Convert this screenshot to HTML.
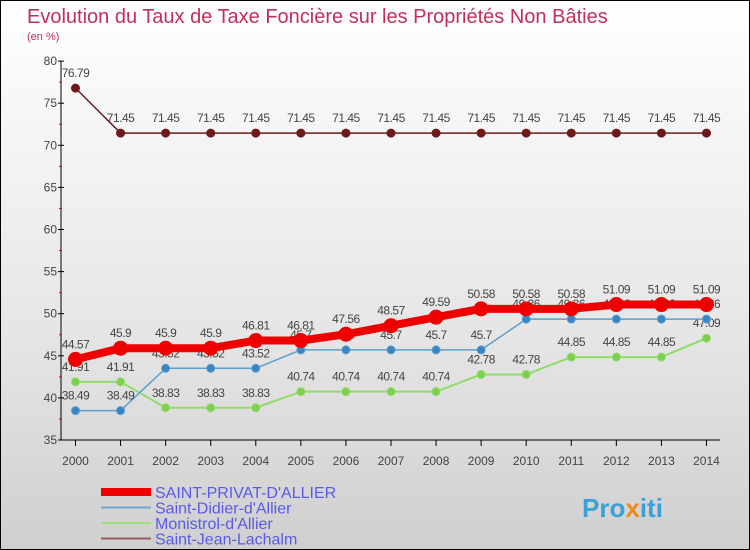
<!DOCTYPE html>
<html><head><meta charset="utf-8">
<style>
html,body{margin:0;padding:0}
body{width:750px;height:550px;overflow:hidden;font-family:"Liberation Sans",sans-serif}
#frame{position:absolute;left:0;top:0;width:748px;height:548px;border:1px solid #000;background:linear-gradient(#ffffff,#e6e6e6 60%,#cfcfcf)}
</style></head><body>
<div id="frame">
<svg id="chart" width="750" height="550" style="position:absolute;left:-1px;top:-1px">
<text x="27" y="23" font-size="20" fill="#c0305a">Evolution du Taux de Taxe Foncière sur les Propriétés Non Bâties</text>
<text x="27" y="40" font-size="11" fill="#c0305a">(en %)</text>
<g id="axes"></g>
<g id="series"></g>
<g id="legend"></g>
<text x="582" y="517" font-size="26" font-weight="bold" fill="#3aa0d8">Pro<tspan fill="#f08a1c">x</tspan>iti</text>
</svg>
</div>
<script>
const years=[2000,2001,2002,2003,2004,2005,2006,2007,2008,2009,2010,2011,2012,2013,2014];
const yTicks=[35,40,45,50,55,60,65,70,75,80];
const seriesNames=["SAINT-PRIVAT-D'ALLIER","Saint-Didier-d'Allier","Monistrol-d'Allier","Saint-Jean-Lachalm"];
const stPrivat=[44.57,45.9,45.9,45.9,46.81,46.81,47.56,48.57,49.59,50.58,50.58,50.58,51.09,51.09,51.09];
const stDidier=[38.49,38.49,43.52,43.52,43.52,45.7,45.7,45.7,45.7,45.7,49.36,49.36,49.36,49.36,49.36];
const monistrol=[41.91,41.91,38.83,38.83,38.83,40.74,40.74,40.74,40.74,42.78,42.78,44.85,44.85,44.85,47.09];
const stJean=[76.79,71.45,71.45,71.45,71.45,71.45,71.45,71.45,71.45,71.45,71.45,71.45,71.45,71.45,71.45];

const NS="http://www.w3.org/2000/svg";
const X0=75.5,XS=45.07,Y0=440,YMIN=35,YPX=8.42;
const xs=i=>X0+i*XS, ys=v=>Y0-(v-YMIN)*YPX;
function mk(t,a,p){const e=document.createElementNS(NS,t);for(const k in a)e.setAttribute(k,a[k]);p.appendChild(e);return e;}
const axes=document.getElementById('axes');
let e=mk('line',{x1:61,y1:ys(80),x2:61,y2:Y0,stroke:'#000'},axes);


e=mk('line',{x1:61,y1:Y0,x2:720,y2:Y0,stroke:'#000'},axes);


yTicks.forEach((t,i)=>{
  mk('line',{x1:58,y1:ys(t),x2:64,y2:ys(t),stroke:'#000'},axes);
  if(i<yTicks.length-1) mk('line',{x1:59,y1:ys(t+2.5),x2:62,y2:ys(t+2.5),stroke:'#e00'},axes);
  const l=mk('text',{x:57,y:ys(t)+4,'font-size':12,'text-anchor':'end',fill:'#444'},axes);
  l.textContent=t;
  
  
});
years.forEach((y,i)=>{
  mk('line',{x1:xs(i),y1:Y0,x2:xs(i),y2:Y0+6,stroke:'#000'},axes);
  const l=mk('text',{x:xs(i),y:Y0+25,'font-size':12,'text-anchor':'middle',fill:'#444'},axes);
  l.textContent=y;
  
  
});
const sg=document.getElementById('series');
function drawSeries(vals,color,w,r,name,fill){
  const g=mk('g',{},sg);
  
  
  mk('polyline',{points:vals.map((v,i)=>xs(i)+','+ys(v)).join(' '),fill:'none',stroke:color,'stroke-width':w,'stroke-linejoin':'round'},g);
  vals.forEach((v,i)=>{
    const c=mk('circle',{cx:xs(i),cy:ys(v),r:r,fill:fill,stroke:color,'stroke-width':1},g);
    
    
    const t=mk('text',{x:xs(i),y:ys(v)-11,'font-size':12,'text-anchor':'middle',fill:'#444','letter-spacing':'-0.5'},g);
    t.textContent=v;
    
    
  });
}
drawSeries(stJean,'#6e1a1a',1.5,4,'series-saint-jean-lachalm','#6e1a1a');
drawSeries(monistrol,'#90dc6a',2,4,'series-monistrol','#7ccf4f');
drawSeries(stDidier,'#5b9ed0',1.5,4,'series-saint-didier','#3a86c4');
drawSeries(stPrivat,'#ee0000',8,7,'series-saint-privat','#ee0000');
const lg=document.getElementById('legend');
const lc=['#ee0000','#6fa8d4','#9de07a','#9a5a5a'],lw=[8,2,2,2];
seriesNames.forEach((n,i)=>{
  const y=492+i*15.5;
  const g=mk('g',{},lg);
  
  
  mk('line',{x1:101,y1:y,x2:151,y2:y,stroke:lc[i],'stroke-width':lw[i]},g);
  const t=mk('text',{x:155,y:y+6,'font-size':16,fill:'#5a5ae8'},g);
  t.textContent=n;
});
</script>
</body></html>
